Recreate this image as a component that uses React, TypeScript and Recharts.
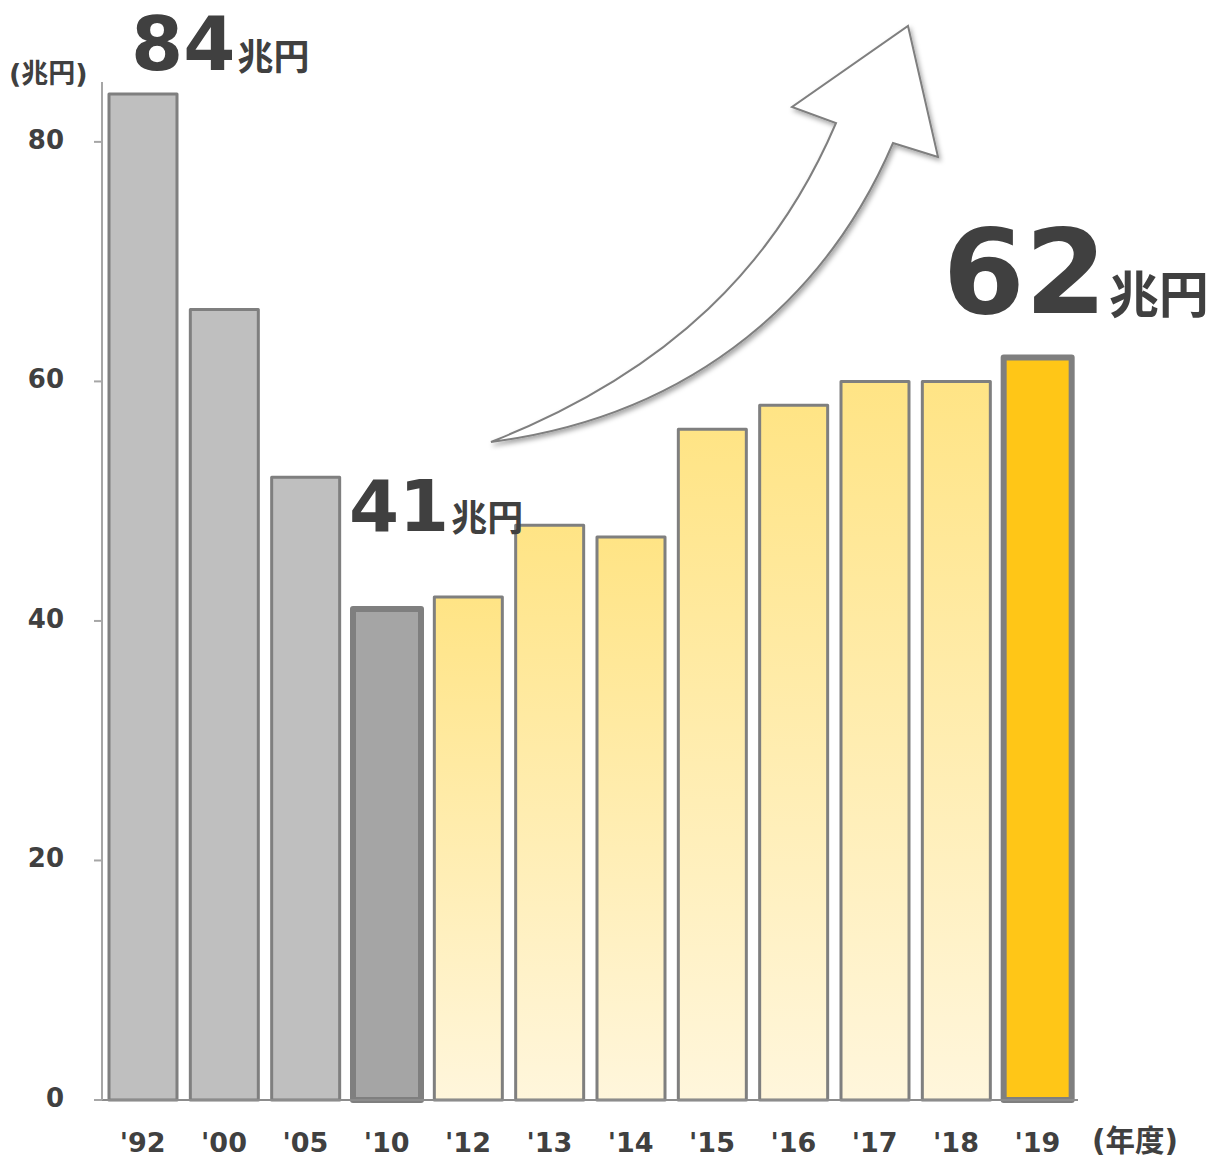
import React from 'react';
import { BarChart, Bar, XAxis, YAxis, Cell, LabelList } from 'recharts';

// ---- data ----
const years = ["'92", "'00", "'05", "'10", "'12", "'13", "'14", "'15", "'16", "'17", "'18", "'19"];
const values = [84, 66, 52, 41, 42, 48, 47, 56, 58, 60, 60, 62];
const yTicks = [0, 20, 40, 60, 80];
const boundaryTicks = [0, 1, 2, 3, 4, 5, 6, 7, 8, 9, 10, 11, 12];
const calloutYears = ["'92", "'10", "'19"];
const calloutSuffix = '兆円';
const yUnit = '(兆円)';
const xUnit = '(年度)';
const lowYear = "'10";
const highYear = "'19";

const data = years.map((year, i) => ({ year, value: values[i] }));

// ---- styles ----
const TEXT = '#404040';
const LATIN = "'DejaVu Sans', Verdana, sans-serif";
const CJK = "'Noto Sans CJK JP', sans-serif";
const calloutStyle: Record<string, { dx: number; dy: number; num: number; unit: number }> = {
  "'92": { dx: 22, dy: -24, num: 75, unit: 36 },
  "'10": { dx: -4, dy: -78, num: 72, unit: 36 },
  "'19": { dx: -61, dy: -44, num: 118, unit: 50 },
};

const W = 1207;
const H = 1160;

const YTick = (props: any) => {
  const { x, y, payload } = props;
  return (
    <text x={x} y={y + 7} textAnchor="end" fill={TEXT} fontFamily={LATIN} fontWeight={700} fontSize={26}>
      {payload.value}
    </text>
  );
};

const XTick = (props: any) => {
  const { x, y, payload } = props;
  return (
    <text x={x} y={y + 52} textAnchor="middle" fill={TEXT} fontFamily={LATIN} fontWeight={700} fontSize={27}>
      {payload.value}
    </text>
  );
};

const Callout = (props: any) => {
  const { x, y, index } = props;
  const year = years[index];
  if (!calloutYears.includes(year)) return null;
  const s = calloutStyle[year];
  return (
    <text x={x + s.dx} y={y + s.dy} fill={TEXT} fontWeight={700}>
      <tspan fontFamily={LATIN} fontSize={s.num}>{values[index]}</tspan>
      <tspan fontFamily={CJK} fontSize={s.unit} dx={2}>{calloutSuffix}</tspan>
    </text>
  );
};

function fillFor(year: string, i: number) {
  const lowIdx = years.indexOf(lowYear);
  if (year === lowYear) return '#a5a5a5';
  if (year === highYear) return '#ffc617';
  if (i < lowIdx) return '#bfbfbf';
  return 'url(#yellowGrad)';
}

export default function App() {
  return (
    <div style={{ position: 'relative', width: W, height: H, marginTop: -8 }}>
      <BarChart width={W} height={H} data={data} margin={{ top: 82, right: 137, bottom: 10, left: 0 }}>
        <defs>
          <linearGradient id="yellowGrad" x1="0" y1="0" x2="0" y2="1">
            <stop offset="0%" stopColor="#ffe485" />
            <stop offset="100%" stopColor="#fff6dc" />
          </linearGradient>
        </defs>
        <XAxis
          xAxisId="grid"
          type="number"
          domain={[0, 12]}
          allowDataOverflow
          ticks={boundaryTicks}
          mirror
          tick={false}
          axisLine={false}
          tickSize={8}
          tickLine={{ stroke: '#a6a6a6', strokeWidth: 1.5 }}
          height={0}
        />
        <XAxis
          dataKey="year"
          interval={0}
          height={50}
          tickSize={0}
          tickMargin={0}
          tickLine={false}
          axisLine={{ stroke: '#8c8c8c', strokeWidth: 2 }}
          tick={<XTick />}
        />
        <YAxis
          domain={[0, 85]}
          ticks={yTicks}
          interval={0}
          width={94}
          tickSize={8}
          tickMargin={30}
          axisLine={{ stroke: '#a6a6a6', strokeWidth: 2 }}
          tickLine={{ stroke: '#a6a6a6', strokeWidth: 2 }}
          tick={<YTick />}
        />
        <Bar dataKey="value" barSize={68} isAnimationActive={false}>
          {data.map((d, i) => (
            <Cell
              key={d.year}
              fill={fillFor(d.year, i)}
              stroke="#7f7f7f"
              strokeWidth={d.year === lowYear || d.year === highYear ? 6 : 3}
              strokeLinejoin="round"
            />
          ))}
          <LabelList dataKey="value" content={<Callout />} />
        </Bar>
      </BarChart>
      <svg
        width={W}
        height={H}
        style={{ position: 'absolute', left: 0, top: 0, pointerEvents: 'none', overflow: 'visible' }}
      >
        <defs>
          <filter id="shadow" x="-20%" y="-20%" width="140%" height="140%">
            <feDropShadow dx="2" dy="3" stdDeviation="2.5" floodColor="#000" floodOpacity="0.35" />
          </filter>
        </defs>
        <g transform="translate(-8,0)">
          <path
            d="M491,442 C671,371 776,264 836,123 L792,107 L908,26 L938,157 L893,143 C830,290 700,415 491,442 Z"
            fill="#ffffff"
            stroke="#7f7f7f"
            strokeWidth={2}
            strokeLinejoin="miter"
            filter="url(#shadow)"
          />
          <text x={9} y={83} fill={TEXT} fontWeight={700} fontSize={27} fontFamily={`${LATIN}, ${CJK}`}>
            {yUnit}
          </text>
          <text x={1092} y={1151} fill={TEXT} fontWeight={700} fontSize={29.5} fontFamily={`${LATIN}, ${CJK}`}>
            {xUnit}
          </text>
        </g>
      </svg>
    </div>
  );
}
